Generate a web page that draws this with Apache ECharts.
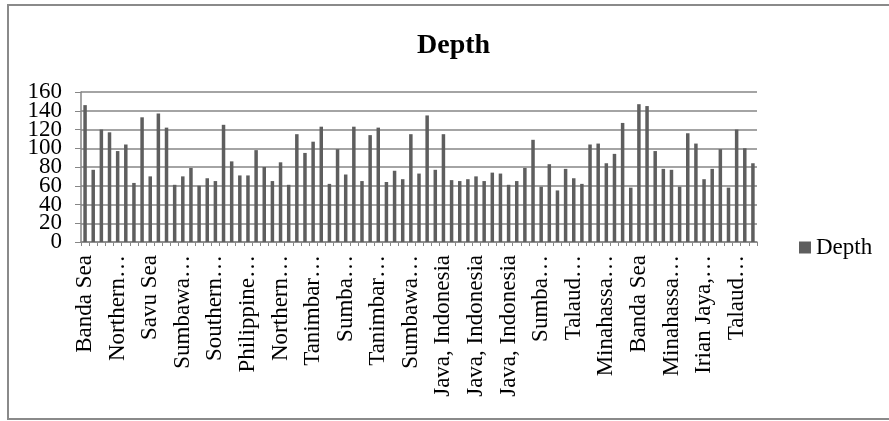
<!DOCTYPE html>
<html>
<head>
<meta charset="utf-8">
<script src="https://cdn.jsdelivr.net/npm/echarts@6/dist/echarts.min.js"></script>
<style>
  html, body { margin: 0; padding: 0; background: #fff; }
  #chart { width: 889px; height: 421px; }
</style>
</head>
<body>
<div id="chart"></div>
<script>
// depth per record
const depth = [
  146, 77, 120, 117, 97, 104, 63, 133, 70, 137, 122, 61, 70, 79, 60, 68, 65, 125,
  86, 71, 71, 98, 80, 65, 85, 61, 115, 95, 107, 123, 62, 99, 72, 123, 65, 114, 122, 64, 76, 67, 115, 73,
  135, 77, 115, 66, 65, 67, 70, 65, 74, 73, 61, 65, 79, 109, 59, 83, 55, 78, 68, 62, 104, 105, 84,
  94, 127, 58, 147, 145, 97, 78, 77, 59, 116, 105, 67, 78, 99, 58, 120, 100, 84
];

// only every 4th region name is shown on the axis
const tickLabels = [
  'Banda Sea', 'Northern…', 'Savu Sea', 'Sumbawa…', 'Southern…', 'Philippine…',
  'Northern…', 'Tanimbar…', 'Sumba…', 'Tanimbar…', 'Sumbawa…', 'Java, Indonesia',
  'Java, Indonesia', 'Java, Indonesia', 'Sumba…', 'Talaud…', 'Minahassa…',
  'Banda Sea', 'Minahassa…', 'Irian Jaya,…', 'Talaud…'
];

const categories = depth.map((v, i) => (i % 4 === 0 ? tickLabels[i / 4] : ''));

const font = 'Liberation Serif, Times New Roman, serif';
const chart = echarts.init(document.getElementById('chart'));

// y labels are tighter than the font height, so split them over two axes
// (ECharts would otherwise drop the overlapping ones)
function yLabels(even, extra) {
  return Object.assign({
    type: 'value',
    position: 'left',
    min: 0,
    max: 160,
    interval: 20,
    axisLabel: {
      margin: 19,
      fontFamily: font,
      fontSize: 23,
      color: '#000',
      showMinLabel: true,
      showMaxLabel: true,
      formatter: v => ((v / 20) % 2 === 0) === even ? String(v) : ''
    }
  }, extra);
}

chart.setOption({
  animation: false,
  backgroundColor: '#fff',
  graphic: [{
    type: 'rect',
    shape: { x: 8, y: 5, width: 900, height: 414 },
    style: { fill: 'none', stroke: '#8a8a8a', lineWidth: 2 }
  }],
  title: {
    text: 'Depth',
    left: 412,
    top: 27,
    textStyle: { fontFamily: font, fontSize: 28, fontWeight: 'bold', color: '#000' }
  },
  legend: {
    left: 794,
    top: 231,
    icon: 'rect',
    itemWidth: 12,
    itemHeight: 12,
    itemGap: 5,
    textStyle: { fontFamily: font, fontSize: 23, color: '#000' },
    data: ['Depth']
  },
  grid: {
    left: 81,
    right: 132,
    top: 92,
    bottom: 179
  },
  xAxis: {
    type: 'category',
    data: categories,
    boundaryGap: true,
    axisLine: { show: true, lineStyle: { color: '#868686', width: 1.5 } },
    axisTick: { show: true, interval: 0, length: 4, lineStyle: { color: '#868686' } },
    axisLabel: {
      interval: 3,
      rotate: 90,
      margin: 13,
      fontFamily: font,
      fontSize: 23,
      color: '#000'
    },
    splitLine: { show: false }
  },
  yAxis: [
    yLabels(true, {
      axisLine: { show: true, lineStyle: { color: '#868686', width: 1.5 } },
      axisTick: { show: true, length: 6, lineStyle: { color: '#868686' } },
      splitLine: { show: true, lineStyle: { color: '#868686', width: 1.5 } }
    }),
    yLabels(false, {
      axisLine: { show: false },
      axisTick: { show: false },
      splitLine: { show: false }
    })
  ],
  series: [{
    name: 'Depth',
    type: 'bar',
    data: depth,
    barWidth: 3.5,
    itemStyle: { color: '#5e5e5e' }
  }]
});
</script>
</body>
</html>
